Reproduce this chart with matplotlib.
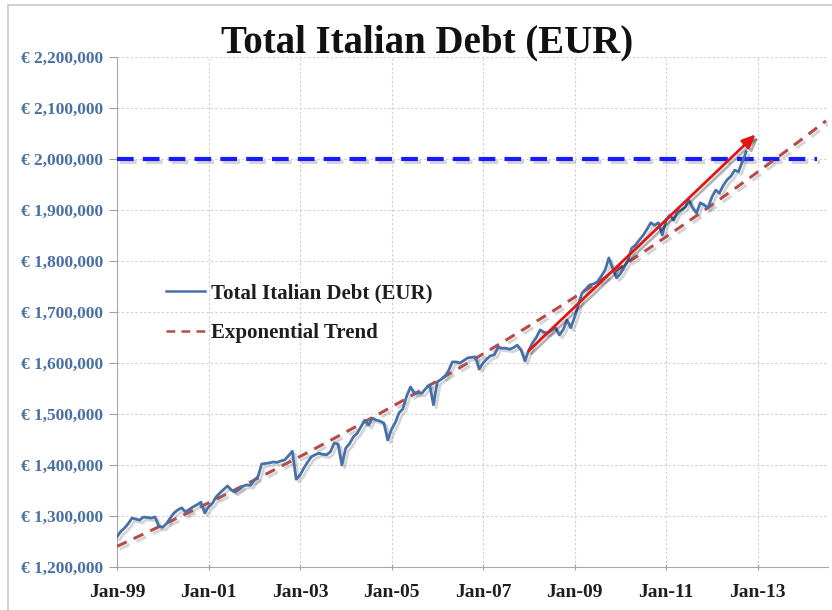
import numpy as np
import pandas as pd
import matplotlib
matplotlib.use("Agg")
import matplotlib.pyplot as plt
import matplotlib.dates as mdates
import matplotlib.patheffects as pe
from matplotlib.ticker import FuncFormatter, MultipleLocator

# Monthly total Italian debt, EUR million, Jan-99 .. Oct-12
debt_1999 = [1259, 1270, 1276, 1285, 1296, 1294, 1292, 1298, 1297, 1296, 1298, 1280]
debt_2000 = [1278, 1285, 1296, 1306, 1312, 1316, 1308, 1313, 1318, 1322, 1327, 1306]
debt_2001 = [1318, 1325, 1337, 1345, 1352, 1359, 1351, 1347, 1352, 1358, 1361, 1360]
debt_2002 = [1370, 1378, 1402, 1403, 1404, 1406, 1405, 1408, 1410, 1418, 1427, 1372]
debt_2003 = [1380, 1394, 1405, 1416, 1420, 1423, 1421, 1420, 1426, 1443, 1441, 1400]
debt_2004 = [1433, 1442, 1455, 1462, 1475, 1488, 1478, 1492, 1488, 1486, 1482, 1449]
debt_2005 = [1470, 1484, 1502, 1510, 1535, 1553, 1541, 1541, 1541, 1550, 1557, 1518]
debt_2006 = [1563, 1568, 1573, 1585, 1602, 1602, 1600, 1605, 1610, 1611, 1612, 1588]
debt_2007 = [1600, 1608, 1614, 1616, 1631, 1629, 1629, 1627, 1630, 1635, 1625, 1604]
debt_2008 = [1625, 1640, 1650, 1665, 1660, 1659, 1664, 1669, 1655, 1665, 1684, 1669]
debt_2009 = [1690, 1715, 1737, 1745, 1753, 1755, 1759, 1770, 1782, 1806, 1785, 1767]
debt_2010 = [1775, 1788, 1800, 1825, 1831, 1841, 1850, 1862, 1875, 1870, 1875, 1851]
debt_2011 = [1880, 1890, 1880, 1896, 1900, 1905, 1920, 1904, 1894, 1914, 1910, 1904]
debt_2012 = [1925, 1939, 1933, 1948, 1959, 1966, 1978, 1975, 1995, 2014]

debt = np.array(debt_1999 + debt_2000 + debt_2001 + debt_2002 + debt_2003 +
                debt_2004 + debt_2005 + debt_2006 + debt_2007 + debt_2008 +
                debt_2009 + debt_2010 + debt_2011 + debt_2012) * 1000.0
dates = pd.date_range("1999-01-01", periods=len(debt), freq="MS")

# trend extended forward to the right edge of the chart
trend_dates = pd.date_range("1999-01-01", "2014-07-01", freq="MS")

threshold = 2_000_000
arrow_start = (pd.Timestamp("2007-12-15"), 1_620_000)
arrow_end = (pd.Timestamp("2013-01-01"), 2_052_000)

x_ticks = pd.date_range("1999-01-01", "2013-01-01", freq="24MS")

# ---- exponential trend, least squares on log values (Excel style)
t_num = mdates.date2num(dates)
coef = np.polyfit(t_num, np.log(debt), 1)
trend = np.exp(np.polyval(coef, mdates.date2num(trend_dates)))

serif = ["Liberation Serif", "DejaVu Serif"]
plt.rcParams["font.family"] = serif

fig = plt.figure(figsize=(8.32, 6.10), dpi=100)
ax = fig.add_axes([0.1406, 0.0705, 0.8544, 0.8361])

# light frame round the picture
fig.patches.append(plt.Rectangle((8 / 832, -0.01), 1.0, 1 - 5 / 610 + 0.01,
                                 transform=fig.transFigure, fill=False,
                                 edgecolor="#c8c8c8", lw=1.2))

shadow = [pe.SimpleLineShadow(offset=(2, -2), alpha=0.3, shadow_color="#777777"),
          pe.Normal()]

ax.axhline(threshold, color="#1a1aff", lw=3, dashes=(4, 2.2),
           xmin=0, xmax=0.985, path_effects=shadow, zorder=3)

ax.plot(trend_dates, trend, color="#b84a48", lw=2.2, dashes=(3.5, 2.5),
        label="Exponential Trend", path_effects=shadow, zorder=4)
ax.plot(dates, debt, color="#4670a8", lw=2, label="Total Italian Debt (EUR)",
        path_effects=shadow, zorder=5)

ax.annotate("", xy=arrow_end, xytext=arrow_start,
            arrowprops=dict(arrowstyle="-|>,head_length=0.8,head_width=0.35",
                            color="#e01515", lw=2,
                            path_effects=[pe.SimpleLineShadow(offset=(2, -2), alpha=0.3),
                                          pe.Normal()]),
            zorder=6)

ax.set_ylim(1_200_000, 2_200_000)
ax.set_xlim(pd.Timestamp("1999-01-01"), pd.Timestamp("2014-07-15"))
ax.yaxis.set_major_locator(MultipleLocator(100_000))
ax.yaxis.set_major_formatter(FuncFormatter(lambda v, p: f"€ {v:,.0f}"))
ax.set_xticks(x_ticks)
ax.xaxis.set_major_formatter(mdates.DateFormatter("%b-%y"))

for lab in ax.get_yticklabels():
    lab.set_color("#4a6fa5")
    lab.set_fontweight("bold")
    lab.set_fontsize(12.5)
for lab in ax.get_xticklabels():
    lab.set_color("#1e1e1e")
    lab.set_fontweight("bold")
    lab.set_fontsize(14)

ax.tick_params(axis="y", length=6, color="#a0a0a0", pad=4)
ax.tick_params(axis="x", length=5, color="#a0a0a0", pad=10, direction="inout")
ax.grid(True, color="#cfcfcf", ls=(0, (2, 2)), lw=0.8)
ax.set_axisbelow(True)
for s in ["top", "right"]:
    ax.spines[s].set_visible(False)
for s in ["left", "bottom"]:
    ax.spines[s].set_color("#a8a8a8")

handles, labels = ax.get_legend_handles_labels()
leg = ax.legend(handles[::-1], labels[::-1], loc="upper left",
                bbox_to_anchor=(0.042, 0.593), frameon=False,
                prop=dict(family=serif, weight="bold", size=15),
                handlelength=1.9, handletextpad=0.3, labelspacing=0.95)
for t in leg.get_texts():
    t.set_color("#1e1e1e")
for h in leg.legend_handles:
    h.set_path_effects([])
    h.set_linewidth(1.8)

fig.text(0.513, 0.93, "Total Italian Debt (EUR)", ha="center", va="center",
         fontsize=28, fontweight="bold", color="#111111", family=serif)

fig.savefig("out.png", dpi=100)
